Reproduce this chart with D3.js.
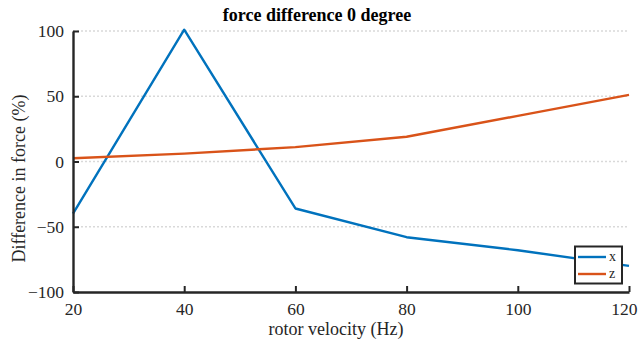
<!DOCTYPE html>
<html><head><meta charset="utf-8">
<script src="https://cdn.jsdelivr.net/npm/d3@7"></script>
<style>body{margin:0;background:#fff}svg{display:block}text{font-family:"Liberation Serif","Times New Roman",serif}</style>
</head><body><svg id="c" width="638" height="347"></svg>
<script>
const velocity = [20, 40, 60, 80, 100, 120];
const xSeries = [-40, 101, -36, -58, -68, -80];
const zSeries = [2.5, 6, 11, 19, 35, 51];
const xTicks = [20, 40, 60, 80, 100, 120];
const yTicks = [-100, -50, 0, 50, 100];
const seriesNames = ["x", "z"];
const colors = ["#0072BD", "#D95319"];

const svg = d3.select("#c");
const L = 73, R = 629, T = 31, B = 292;
const x = d3.scaleLinear().domain([20, 120]).range([L, R]);
const y = d3.scaleLinear().domain([-100, 100]).range([B, T]);
const ax = "#262626";
const serif = "Liberation Serif";

// grid
svg.append("g").selectAll("line").data(yTicks.filter(d => d > -100)).join("line")
  .attr("x1", L).attr("x2", R).attr("y1", d => y(d)).attr("y2", d => y(d))
  .attr("stroke", "#d9d9d9").attr("stroke-width", 1.5).attr("stroke-dasharray", "2,2");

// series
const line = d3.line().x((d, i) => x(velocity[i])).y(d => y(d));
[xSeries, zSeries].forEach((s, k) => {
  svg.append("path").attr("d", line(s)).attr("fill", "none")
    .attr("stroke", colors[k]).attr("stroke-width", 2.4).attr("stroke-linejoin", "round");
});

// axes
const xa = svg.append("g").attr("transform", `translate(0,${B})`)
  .call(d3.axisBottom(x).tickValues(xTicks).tickSize(-6).tickPadding(9).tickSizeOuter(0));
const ya = svg.append("g").attr("transform", `translate(${L},0)`)
  .call(d3.axisLeft(y).tickValues(yTicks).tickSize(-6).tickPadding(9).tickSizeOuter(0));
[xa, ya].forEach(g => {
  g.attr("font-family", serif).attr("font-size", 17.5);
  g.select(".domain").attr("stroke", ax).attr("stroke-width", 2.4);
  g.selectAll(".tick line").attr("stroke", ax).attr("stroke-width", 2);
  g.selectAll(".tick text").attr("fill", ax);
});
xa.selectAll(".tick text").attr("dy", "0.8em");
xa.selectAll(".tick").filter(d => d === 120).select("text").attr("text-anchor", "end").attr("x", 8);

// title and labels
svg.append("text").attr("x", 317).attr("y", 21).attr("text-anchor", "middle")
  .style("font-size", "18px").style("font-weight", "bold").text("force difference 0 degree");
svg.append("text").attr("x", 336).attr("y", 335).attr("text-anchor", "middle")
  .attr("fill", ax).style("font-size", "18px").text("rotor velocity (Hz)");
svg.append("text").attr("transform", `translate(25,${(95 + 262) / 2}) rotate(-90)`).attr("text-anchor", "middle")
  .attr("fill", ax).style("font-size", "18px").text("Difference in force (%)");

// legend
const lg = svg.append("g");
lg.append("rect").attr("x", 575).attr("y", 246.5).attr("width", 47).attr("height", 37)
  .attr("fill", "#fff").attr("stroke", ax).attr("stroke-width", 2);
seriesNames.forEach((n, k) => {
  const yy = 257 + k * 17;
  lg.append("line").attr("x1", 578).attr("x2", 606).attr("y1", yy).attr("y2", yy)
    .attr("stroke", colors[k]).attr("stroke-width", 2.4);
  lg.append("text").attr("x", 609).attr("y", yy + 4).attr("fill", ax).style("font-size", "14px").text(n);
});
</script></body></html>
